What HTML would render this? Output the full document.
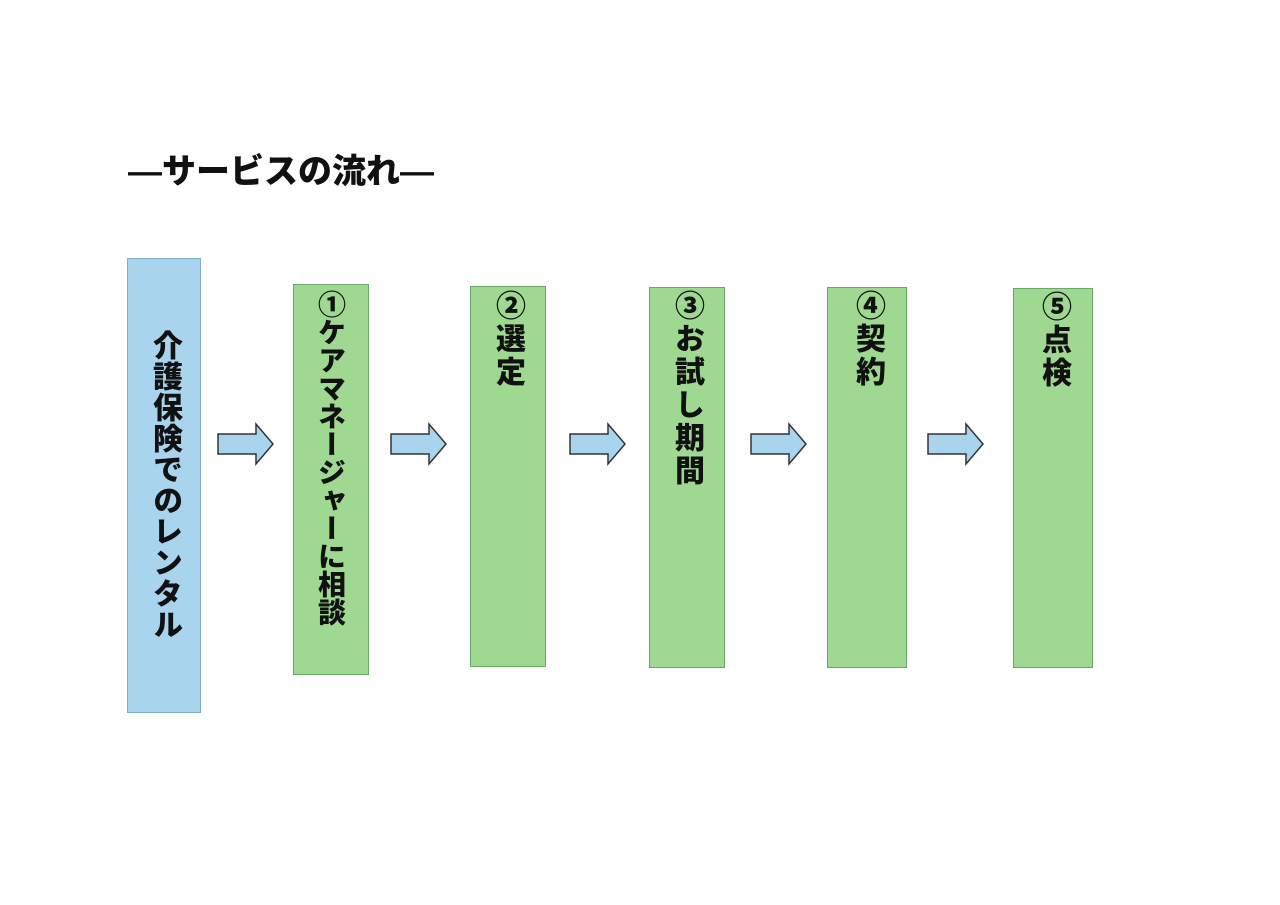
<!DOCTYPE html>
<html><head><meta charset="utf-8"><style>
body{margin:0;width:1280px;height:905px;background:#fff;position:relative;overflow:hidden;font-family:"Liberation Sans","Noto Sans CJK JP",sans-serif;font-weight:900}
.b{position:absolute;box-sizing:border-box;border:1px solid #6aa86a;background:#9fd890}
.blue{background:#a8d4ee;border-color:#7fb2c8}
.t{position:absolute;writing-mode:vertical-rl;color:#111;font-weight:900;white-space:nowrap;line-height:1}
</style></head><body>
<div style="position:absolute;left:128px;top:144px;font-size:34px;color:#111;font-weight:900">―サービスの流れ―</div>
<div class="b blue" style="left:127px;top:258px;width:74px;height:455px"></div>
<div class="t" style="left:149px;top:330px;font-size:30px;letter-spacing:1px">介護保険でのレンタル</div>
<div class="b" style="left:293px;top:284px;width:76px;height:391px"></div>
<div class="t" style="left:316px;top:290px;font-size:28px;letter-spacing:0px">①ケアマネージャーに相談</div>
<div class="b" style="left:470px;top:286px;width:76px;height:381px"></div>
<div class="t" style="left:492px;top:290px;font-size:30px;letter-spacing:3px">②選定</div>
<div class="b" style="left:649px;top:287px;width:76px;height:381px"></div>
<div class="t" style="left:671px;top:290px;font-size:30px;letter-spacing:3px">③お試し期間</div>
<div class="b" style="left:827px;top:287px;width:80px;height:381px"></div>
<div class="t" style="left:852px;top:290px;font-size:30px;letter-spacing:3px">④契約</div>
<div class="b" style="left:1013px;top:288px;width:80px;height:380px"></div>
<div class="t" style="left:1038px;top:291px;font-size:30px;letter-spacing:3px">⑤点検</div>
<svg style="position:absolute;left:0;top:0" width="1280" height="905">
<g fill="#a8d4ee" stroke="#333" stroke-width="1.5">
<path d="M218 434h38v-10l17 20-17 20v-10h-38z"/>
<path d="M391 434h38v-10l17 20-17 20v-10h-38z"/>
<path d="M570 434h38v-10l17 20-17 20v-10h-38z"/>
<path d="M751 434h38v-10l17 20-17 20v-10h-38z"/>
<path d="M928 434h38v-10l17 20-17 20v-10h-38z"/>
</g></svg>
</body></html>
